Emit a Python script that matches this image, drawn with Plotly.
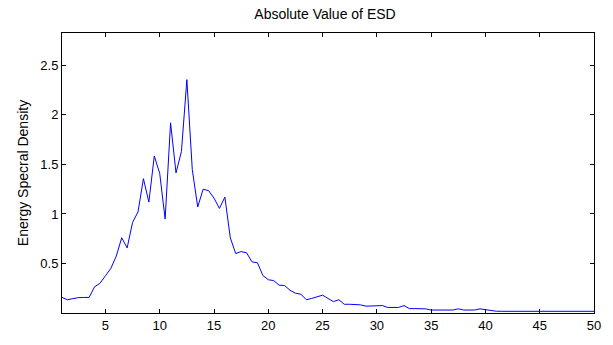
import plotly.graph_objects as go

freq = [1 + 0.5 * i for i in range(99)]
esd = [
    0.157, 0.134, 0.145, 0.155, 0.157, 0.157, 0.265, 0.300, 0.376, 0.450,
    0.575, 0.760, 0.657, 0.915, 1.020, 1.356, 1.120, 1.585, 1.410, 0.948,
    1.920, 1.415, 1.630, 2.356, 1.448, 1.070, 1.250, 1.235, 1.160, 1.056,
    1.170, 0.760, 0.600, 0.620, 0.608, 0.516, 0.507, 0.379, 0.336, 0.327,
    0.281, 0.278, 0.229, 0.200, 0.190, 0.134, 0.147, 0.167, 0.180, 0.147,
    0.115, 0.134, 0.088, 0.088, 0.088, 0.082, 0.069, 0.069, 0.069, 0.075,
    0.056, 0.056, 0.056, 0.075, 0.044, 0.044, 0.044, 0.042, 0.030, 0.030,
    0.030, 0.030, 0.030, 0.042, 0.030, 0.030, 0.030, 0.042, 0.033, 0.030,
    0.018, 0.017, 0.017, 0.017, 0.017, 0.017, 0.017, 0.017, 0.017, 0.017,
    0.017, 0.017, 0.017, 0.017, 0.017, 0.017, 0.017, 0.017, 0.017,
]
x_ticks = [5, 10, 15, 20, 25, 30, 35, 40, 45, 50]
y_ticks = [0.5, 1, 1.5, 2, 2.5]
y_tick_text = ["0.5", "1", "1.5", "2", "2.5"]

fig = go.Figure()
fig.add_trace(go.Scatter(x=freq, y=esd, mode="lines",
                         line=dict(color="#0000ff", width=1)))

fig.update_layout(
    width=613, height=345,
    margin=dict(l=62, r=19, t=33, b=24),
    paper_bgcolor="white", plot_bgcolor="white",
    showlegend=False,
    font=dict(family="Liberation Sans, Arial, sans-serif", size=13, color="black"),
    title=dict(text="Absolute Value of ESD", xref="paper",
               x=(325 - 62) / 532, xanchor="center",
               y=1 - 14 / 345, yanchor="middle",
               font=dict(size=14, color="black")),
)
fig.update_xaxes(range=[1, 50], tickvals=x_ticks, ticks="inside", ticklen=4,
                 tickcolor="black", showline=True, linecolor="black", linewidth=1,
                 mirror="ticks", showgrid=False, zeroline=False,
                 tickfont=dict(size=13))
fig.update_yaxes(range=[0, 2.827], tickvals=y_ticks, ticktext=y_tick_text,
                 ticks="inside", ticklen=4, tickcolor="black", showline=True,
                 linecolor="black", linewidth=1, mirror="ticks", showgrid=False,
                 zeroline=False, tickfont=dict(size=13),
                 title=dict(text="Energy Specral Density", font=dict(size=14),
                            standoff=8))

fig.write_html("out.html")
